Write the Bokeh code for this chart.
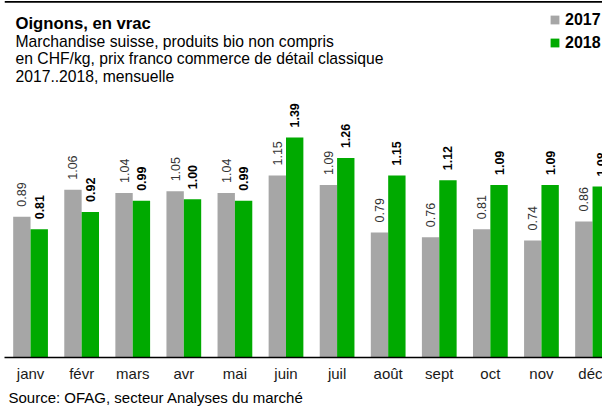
from math import pi
from bokeh.plotting import figure
from bokeh.models import (ColumnDataSource, Range1d, FixedTicker, Label, Legend,
                          LegendItem, Title, Span)
from bokeh.core.properties import value
from bokeh.transform import dodge
from bokeh.embed import file_html
from bokeh.resources import INLINE

# ---- data -------------------------------------------------------------
months = ["janv", "févr", "mars", "avr", "mai", "juin",
          "juil", "août", "sept", "oct", "nov", "déc"]
prix_2017 = [0.89, 1.06, 1.04, 1.05, 1.04, 1.15, 1.09, 0.79, 0.76, 0.81, 0.74, 0.86]
prix_2018 = [0.81, 0.92, 0.99, 1.00, 0.99, 1.39, 1.26, 1.15, 1.12, 1.09, 1.09, 1.08]
series_labels = ["2017", "2018"]

title = "Oignons, en vrac"
subtitle = ["Marchandise suisse, produits bio non compris",
            "en CHF/kg,  prix franco commerce de détail classique",
            "2017..2018, mensuelle"]
source_note = "Source: OFAG, secteur Analyses du marché"

# ---- styling ----------------------------------------------------------
FONT = "Liberation Sans"
GREY = "#A6A6A6"
GREEN = "#00AA00"
W, H = 602, 408
LEFT = 4
BOTTOM = 50
Y_TOP = 2.256

pos = [i + 0.5 for i in range(len(months))]
src = ColumnDataSource(dict(
    x=pos, y17=prix_2017, y18=prix_2018,
    t17=["%.2f" % v for v in prix_2017],
    t18=["%.2f" % v for v in prix_2018],
))

p = figure(width=W, height=H, output_backend="svg", toolbar_location=None,
           x_range=Range1d(-0.01, 11.695), y_range=Range1d(0, Y_TOP),
           y_axis_location=None,
           min_border_left=LEFT, min_border_right=0, min_border_top=0,
           min_border_bottom=BOTTOM)
p.outline_line_color = None
p.xgrid.visible = False
p.ygrid.visible = False
p.background_fill_color = "white"
p.border_fill_color = "white"

# thin black rule along the top edge
p.add_layout(Span(location=Y_TOP - 0.009, dimension="width",
                  line_color="#000000", line_width=1.6))

r17 = p.vbar(x=dodge("x", -0.17, range=p.x_range), top="y17", width=0.34,
             source=src, fill_color=GREY, line_color=None)
r18 = p.vbar(x=dodge("x", 0.17, range=p.x_range), top="y18", width=0.34,
             source=src, fill_color=GREEN, line_color=None)

p.text(x=dodge("x", -0.17, range=p.x_range), y="y17", text="t17", source=src,
       angle=pi / 2, text_align="left", text_baseline="middle", y_offset=-10,
       text_font=value(FONT), text_font_size="12.5px", text_color="#333333")
p.text(x=dodge("x", 0.17, range=p.x_range), y="y18", text="t18", source=src,
       angle=pi / 2, text_align="left", text_baseline="middle", y_offset=-10,
       text_font=value(FONT), text_font_size="12.5px", text_color="#000000",
       text_font_style="bold")

ax = p.xaxis[0]
ax.ticker = FixedTicker(ticks=pos)
ax.major_label_overrides = {x: m for x, m in zip(pos, months)}
ax.major_tick_line_color = None
ax.major_tick_out = 0
ax.major_tick_in = 0
ax.minor_tick_line_color = None
ax.minor_tick_out = 0
ax.axis_line_color = "#000000"
ax.axis_line_width = 1.5
ax.major_label_standoff = 7
ax.major_label_text_font = FONT
ax.major_label_text_font_size = "15px"
ax.major_label_text_color = "#1a1a1a"

frame_h = H - BOTTOM

legend = Legend(items=[LegendItem(label=series_labels[0], renderers=[r17]),
                       LegendItem(label=series_labels[1], renderers=[r18])],
                location=(545, frame_h - 53.5), orientation="vertical",
                margin=0, padding=2, spacing=3,
                glyph_width=11, glyph_height=11, label_standoff=5,
                label_height=20,
                label_text_font=FONT, label_text_font_size="16px",
                label_text_font_style="bold", label_text_color="#000000",
                border_line_color=None, background_fill_alpha=0)
p.add_layout(legend)

p.add_layout(Label(x=11, y=frame_h - 24, x_units="screen", y_units="screen",
                   text=title, text_font=FONT, text_font_size="16.7px",
                   text_font_style="bold", text_color="#000000",
                   text_baseline="alphabetic"))
for k, line in enumerate(subtitle):
    p.add_layout(Label(x=11, y=frame_h - (41.7 + 17.7 * k), x_units="screen",
                       y_units="screen", text=line, text_font=FONT,
                       text_font_size="15.7px", text_color="#000000",
                       text_baseline="alphabetic"))

p.add_layout(Title(text=source_note, align="left", offset=4, standoff=5,
                   text_font=FONT, text_font_size="15px",
                   text_font_style="normal", text_color="#000000"), "below")

open("out.html", "w").write(file_html(p, INLINE))
